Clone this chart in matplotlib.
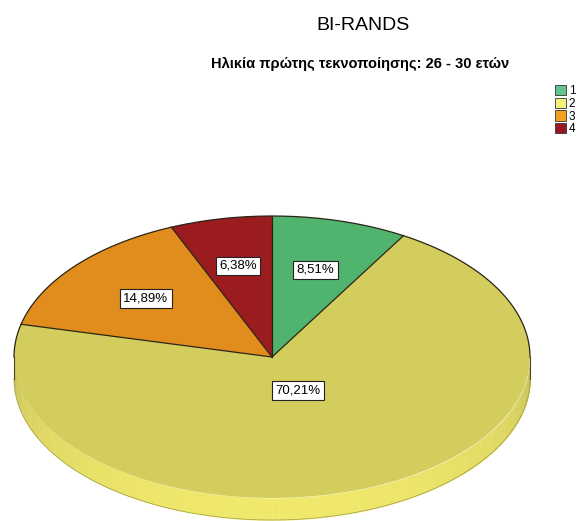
import numpy as np
import matplotlib.pyplot as plt
from matplotlib.patches import Patch

plt.rcParams['font.family'] = ['Liberation Sans', 'DejaVu Sans']

# slice data, clockwise from 12 o'clock
categories = ['1', '2', '3', '4']
percentages = [8.51, 70.21, 14.89, 6.38]
pct_labels = ['8,51%', '70,21%', '14,89%', '6,38%']

top_colors = ['#50b46e', '#d3cd5d', '#e08d1e', '#9b1c1e']
legend_colors = ['#63c48f', '#f4f17d', '#f2a11e', '#9a1624']
label_radius = [0.64, 0.26, 0.64, 0.66]

W, H = 578, 521
cx, cy = 272, 357      # pie centre in pixels (from top-left)
rx, ry = 258, 141      # half axes of the tilted top face
depth = 22 / ry        # thickness of the rim, in y units

fig = plt.figure(figsize=(W / 100, H / 100), dpi=100)
ax = fig.add_axes([0, 0, 1, 1])

wedges, _ = ax.pie(percentages, colors=top_colors, startangle=90,
                   counterclock=False, radius=1,
                   wedgeprops=dict(edgecolor='none', linewidth=0))
for w in wedges:
    w.set_zorder(2)

# front rim of the 3d pie, lighter in the middle, darker at both ends
theta = np.linspace(np.pi, 2 * np.pi, 121)
side_dark = np.array([0.66, 0.65, 0.27])
side_light = np.array([0.94, 0.91, 0.42])
for t0, t1 in zip(theta[:-1], theta[1:]):
    tt = np.linspace(t0, t1, 4)
    xs = np.cos(tt)
    top = np.sin(tt)
    k = np.clip(-np.sin((t0 + t1) / 2), 0, 1) ** 0.35
    col = side_dark + (side_light - side_dark) * k
    ax.fill_between(xs, top - depth, top, color=col, linewidth=0.3,
                    edgecolor=col, zorder=1)

# outline: back arc of the top face and the rim of the side
back = np.linspace(0, np.pi, 200)
ax.plot(np.cos(back), np.sin(back), color='#2a2415', lw=0.9, zorder=3)
ax.plot(np.cos(theta), np.sin(theta) - depth, color='#a09d48', lw=0.5, zorder=3)
ax.plot([-1, -1], [0, -depth], color='#4a4520', lw=0.8, zorder=3)
ax.plot([1, 1], [0, -depth], color='#4a4520', lw=0.8, zorder=3)

# radial borders between the slices
for w in wedges:
    a = np.deg2rad(w.theta1)
    ax.plot([0, np.cos(a)], [0, np.sin(a)], color='#2a2415', lw=0.9, zorder=3)

# percentage boxes
for w, txt, r in zip(wedges, pct_labels, label_radius):
    mid = np.deg2rad((w.theta1 + w.theta2) / 2)
    ax.text(r * np.cos(mid), r * np.sin(mid), txt, ha='center', va='center',
            fontsize=9.5, zorder=5,
            bbox=dict(boxstyle='square,pad=0.25', facecolor='white',
                      edgecolor='#222222', linewidth=0.8))

ax.set_aspect('auto')
ax.set_xlim(-cx / rx, (W - cx) / rx)
ax.set_ylim(-(H - cy) / ry, cy / ry)
ax.axis('off')

fig.text(363 / W, 1 - 26 / H, 'BI-RANDS', ha='center', va='center', fontsize=14)
fig.text(360 / W, 1 - 64 / H, 'Ηλικία πρώτης τεκνοποίησης: 26 - 30 ετών',
         ha='center', va='center', fontsize=10.5, fontweight='bold')

handles = [Patch(facecolor=c, edgecolor='#333333', linewidth=0.6)
           for c in legend_colors]
fig.legend(handles, categories, loc='upper left',
           bbox_to_anchor=(555 / W, 1 - 85 / H), frameon=False, fontsize=8.5,
           handlelength=0.95, handleheight=0.95, handletextpad=0.2,
           labelspacing=0.05, borderpad=0, borderaxespad=0)

fig.savefig('out.png', dpi=100, facecolor='white')
